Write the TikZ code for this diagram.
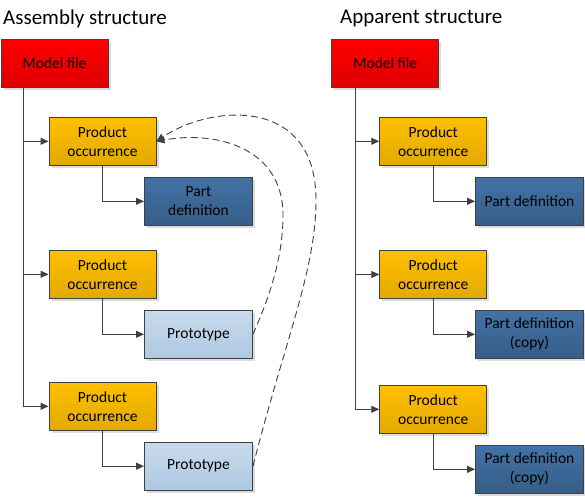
\documentclass[tikz,border=0pt]{standalone}
\usepackage{fontspec}
\setmainfont{Carlito}
\usetikzlibrary{arrows.meta,shadows,calc}
\definecolor{edge}{HTML}{404040}
\definecolor{redtop}{HTML}{FF0000}
\definecolor{redbot}{HTML}{DD0000}
\definecolor{ortop}{HTML}{FFC000}
\definecolor{orbot}{HTML}{E2A900}
\definecolor{dbtop}{HTML}{4273A6}
\definecolor{dbbot}{HTML}{365D87}
\definecolor{lbtop}{HTML}{C8DAEC}
\definecolor{lbbot}{HTML}{AEC9E2}
\begin{document}
\begin{tikzpicture}[x=1pt,y=-1pt,
  box/.style={draw=edge, line width=0.9pt, minimum width=107pt, minimum height=48pt,
    inner sep=0pt, align=center, font=\fontsize{15.5}{19}\selectfont, text=black,
    drop shadow={shadow xshift=2.5pt, shadow yshift=-2.5pt, fill=black!30, opacity=0.45}},
  modelbox/.style={box, top color=redtop, bottom color=redbot},
  occbox/.style={box, top color=ortop, bottom color=orbot},
  defbox/.style={box, minimum width=108pt, top color=dbtop, bottom color=dbbot},
  protobox/.style={box, minimum width=108pt, top color=lbtop, bottom color=lbbot},
  title/.style={font=\fontsize{21}{25}\selectfont, text=black, inner sep=0pt, anchor=base west},
  conn/.style={draw=edge, line width=0.9pt, -{Triangle[length=8pt,width=7pt]}},
  dsh/.style={draw=edge, line width=0.9pt, dash pattern=on 7pt off 4pt, -{Triangle[length=8pt,width=7pt]}}
]
\useasboundingbox (0,0) rectangle (585,496);

% titles
\node[title] (t1) at (3,24) {Assembly structure};
\node[title] (t2) at (340,23.5) {Apparent structure};

% left structure
\node[modelbox] (mf1) at (54.5,63) {Model file};
\node[occbox] (po1) at (102.5,141.3) {Product\\occurrence};
\node[defbox] (pd1) at (198.5,201.3) {Part\\definition};
\node[occbox] (po2) at (102.5,274.3) {Product\\occurrence};
\node[protobox] (pr1) at (198.5,334.3) {Prototype};
\node[occbox] (po3) at (102.5,406.3) {Product\\occurrence};
\node[protobox] (pr2) at (198.5,466.2) {Prototype};

% right structure
\node[modelbox] (mf2) at (385.3,63) {Model file};
\node[occbox] (po4) at (433.2,141.3) {Product\\occurrence};
\node[defbox] (pd2) at (529.5,201.3) {Part definition};
\node[occbox] (po5) at (433.2,274.5) {Product\\occurrence};
\node[defbox] (pd3) at (529.5,334.3) {Part definition\\(copy)};
\node[occbox] (po6) at (433.2,409.3) {Product\\occurrence};
\node[defbox] (pd4) at (529.5,469.3) {Part definition\\(copy)};

% trunks
\coordinate (tr1) at ($(mf1.south west)+(23.3,0)$);
\coordinate (tr2) at ($(mf2.south west)+(24,0)$);

\draw[conn] (tr1) |- (po1.west);
\draw[conn] (tr1) |- (po2.west);
\draw[conn] (tr1) |- (po3.west);
\draw[conn] (po1.south) |- (pd1.west);
\draw[conn] (po2.south) |- (pr1.west);
\draw[conn] (po3.south) |- (pr2.west);

\draw[conn] (tr2) |- (po4.west);
\draw[conn] (tr2) |- (po5.west);
\draw[conn] (tr2) |- (po6.west);
\draw[conn] (po4.south) |- (pd2.west);
\draw[conn] (po5.south) |- (pd3.west);
\draw[conn] (po6.south) |- (pd4.west);

% dashed references from prototypes back to the first occurrence
\coordinate (k1) at (283,215);
\coordinate (k2) at (316,200);
\draw[dsh] (pr1.east) .. controls (268,300) and (283,260) .. (k1)
  .. controls (283,150) and (220,130) .. (po1.east);
\draw[dsh] (pr2.east) .. controls (285,340) and (316,270) .. (k2)
  .. controls (316,95) and (210,105) .. (po1.east);
\end{tikzpicture}
\end{document}
